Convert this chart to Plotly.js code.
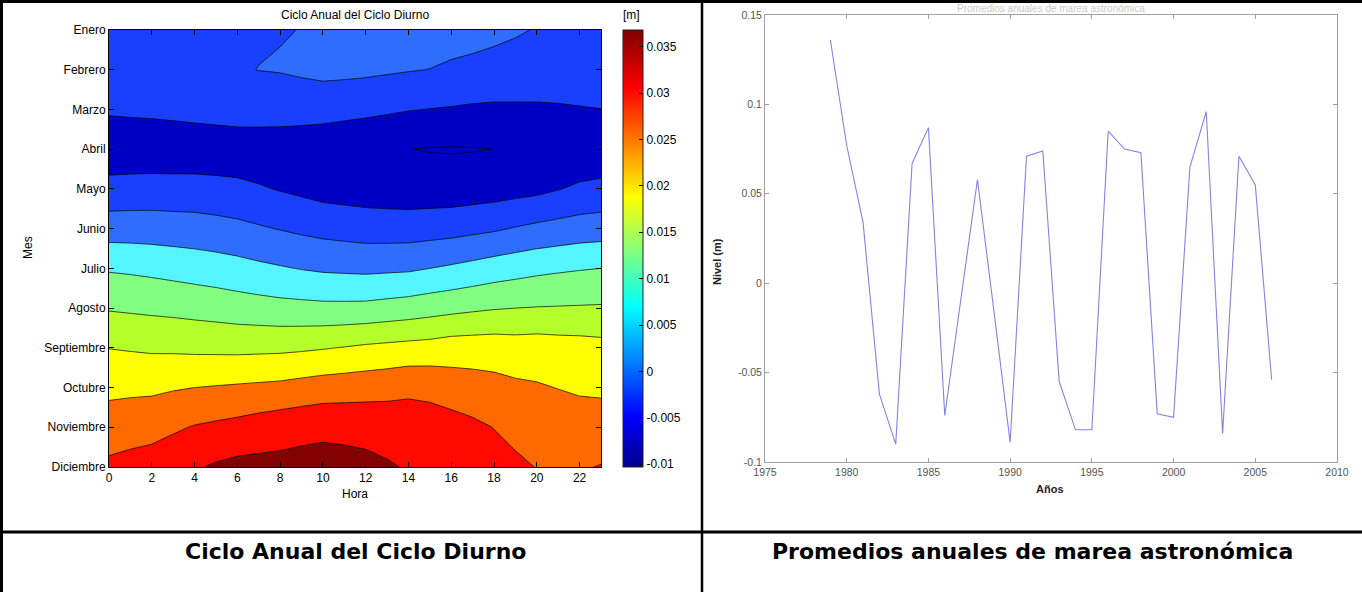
<!DOCTYPE html>
<html>
<head>
<meta charset="utf-8">
<script src="https://cdn.plot.ly/plotly-3.0.1.min.js"></script>
<style>
  html, body { margin: 0; padding: 0; background: #fff; overflow: hidden; }
  #fig { width: 1362px; height: 592px; }
</style>
</head>
<body>
<div id="fig"></div>
<script>
// ---- Ciclo anual del ciclo diurno: nivel [m] por mes (filas) y hora (columnas) ----
const horas = [0,1,2,3,4,5,6,7,8,9,10,11,12,13,14,15,16,17,18,19,20,21,22,23];
const horaTicks = [0,2,4,6,8,10,12,14,16,18,20,22];
const meses = ['Enero','Febrero','Marzo','Abril','Mayo','Junio','Julio','Agosto','Septiembre','Octubre','Noviembre','Diciembre'];
const mesIdx = [1,2,3,4,5,6,7,8,9,10,11,12];

const enero      = [-0.0025,-0.0024,-0.0022,-0.0019,-0.0015,-0.0010,-0.0006,-0.0004,-0.00014,0.00005,0.0018,0.0021,0.0022,0.0022,0.0022,0.0030,0.0035,0.0022,0.0011,0.0004,-0.0002,-0.0010,-0.0015,-0.0018];
const febrero    = [-0.0033,-0.0032,-0.0030,-0.0026,-0.0022,-0.0012,-0.0003,0.00005,0.00019,0.0006,0.0011,0.0011,0.00095,0.0006,0.00025,-0.00008,-0.0012,-0.0015,-0.00155,-0.0016,-0.00155,-0.0017,-0.0018,-0.0025];
const marzo      = [-0.0044,-0.0042,-0.0040,-0.0037,-0.0033,-0.0029,-0.0024,-0.0023,-0.0022,-0.0024,-0.0027,-0.0033,-0.0038,-0.0043,-0.0048,-0.0051,-0.0053,-0.0056,-0.0058,-0.0058,-0.0058,-0.0056,-0.0053,-0.00505];
const abril      = [-0.0082,-0.0082,-0.0083,-0.0083,-0.0083,-0.0083,-0.0083,-0.0084,-0.0086,-0.0088,-0.0090,-0.0092,-0.0094,-0.0097,-0.00995,-0.0102,-0.0103,-0.0102,-0.00998,-0.0097,-0.0094,-0.0091,-0.0088,-0.0085];
const mayo       = [-0.0033,-0.0031,-0.0029,-0.0030,-0.0030,-0.0033,-0.0037,-0.0045,-0.0053,-0.0060,-0.0068,-0.0071,-0.0074,-0.0076,-0.0078,-0.0078,-0.0078,-0.0075,-0.0072,-0.0067,-0.0062,-0.0052,-0.0042,-0.0037];
const junio      = [0.0026,0.0026,0.0025,0.0023,0.0021,0.0017,0.0012,0.0005,-0.0002,-0.0009,-0.0015,-0.0019,-0.0023,-0.0024,-0.0024,-0.0021,-0.0018,-0.0012,-0.0006,0.0003,0.0011,0.0017,0.0023,0.0026];
const julio      = [0.0095,0.0092,0.0088,0.0083,0.0078,0.0073,0.0067,0.0060,0.0054,0.0048,0.0043,0.0041,0.0039,0.0041,0.0043,0.0050,0.0057,0.0065,0.0074,0.0081,0.0088,0.0093,0.0097,0.0100];
const agosto     = [0.0146,0.0143,0.0140,0.0137,0.0133,0.0129,0.0124,0.0120,0.0116,0.0114,0.0112,0.0112,0.0113,0.0118,0.0123,0.0130,0.0136,0.0142,0.0147,0.0150,0.0152,0.0153,0.0154,0.0155];
const septiembre = [0.0199,0.0196,0.0193,0.0192,0.0190,0.0189,0.0188,0.0189,0.0190,0.0193,0.0197,0.0202,0.0208,0.0212,0.0216,0.0219,0.0226,0.0227,0.0228,0.0224,0.0226,0.0222,0.0220,0.0216];
const octubre    = [0.0238,0.0240,0.0241,0.0246,0.0250,0.0253,0.0256,0.0259,0.0262,0.0268,0.0274,0.0277,0.0280,0.0284,0.0290,0.0287,0.0275,0.0270,0.0264,0.0258,0.0254,0.0249,0.0244,0.0242];
const noviembre  = [0.0275,0.0279,0.0283,0.0293,0.0303,0.0309,0.0315,0.0323,0.0330,0.0335,0.0339,0.0337,0.0335,0.0330,0.0325,0.0322,0.0320,0.0310,0.0299,0.0290,0.0277,0.0274,0.0272,0.0272];
const diciembre  = [0.0310,0.0317,0.0323,0.0334,0.0345,0.0356,0.0363,0.0364,0.0364,0.0367,0.0368,0.0366,0.0362,0.0355,0.0346,0.0341,0.0336,0.0326,0.0316,0.0307,0.0299,0.0296,0.0296,0.0302];

const colorbarTicks  = [-0.01,-0.005,0,0.005,0.01,0.015,0.02,0.025,0.03,0.035];
const colorbarLabels = ['-0.01','-0.005','0','0.005','0.01','0.015','0.02','0.025','0.03','0.035'];

// ---- Promedios anuales de marea astronómica ----
const anios = [1979,1980,1981,1982,1983,1984,1985,1986,1987,1988,1989,1990,1991,1992,1993,1994,1995,1996,1997,1998,1999,2000,2001,2002,2003,2004,2005,2006];
const nivel = [0.136,0.077,0.034,-0.062,-0.090,0.067,0.087,-0.074,-0.008,0.058,-0.015,-0.089,0.071,0.074,-0.055,-0.082,-0.082,0.085,0.075,0.073,-0.073,-0.075,0.065,0.096,-0.084,0.071,0.055,-0.054];
const anioTicks = [1975,1980,1985,1990,1995,2000,2005,2010];
const nivelTicks = [-0.1,-0.05,0,0.05,0.1,0.15];
const nivelLabels = ['-0.1','-0.05','0','0.05','0.1','0.15'];

// ---- page geometry (pixels -> paper fractions) ----
const W = 1362, H = 592;
const px = x => x / W;
const py = y => 1 - y / H;

const z = [enero, febrero, marzo, abril, mayo, junio, julio, agosto, septiembre, octubre, noviembre, diciembre];

// one flat colour per filled band (below -0.01, then each 0.005 step up to >0.035)
const bandColors = ['#0000c4','#0000c4','#1a40ff','#2f6dff','#55f5ff','#80ff80','#b4ff2a','#ffff00','#ff6a00','#ff0800','#820000'];
const bandScale = bandColors.map((c, i) => [i / (bandColors.length - 1), c]);

const jet = [
  [0, '#00008f'], [0.117, '#0000ff'], [0.367, '#00ffff'],
  [0.617, '#ffff00'], [0.867, '#ff0000'], [1, '#800000']
];

const sans = 'Liberation Sans, Arial, Helvetica, sans-serif';

const traces = [
  {
    type: 'contour',
    x: horas, y: mesIdx, z: z,
    xaxis: 'x', yaxis: 'y',
    autocontour: false,
    contours: { start: -0.01, end: 0.035, size: 0.005, coloring: 'fill', showlines: true },
    colorscale: bandScale,
    showscale: false,
    line: { color: '#000', width: 0.7, smoothing: 0 },
    hoverinfo: 'skip'
  },
  {
    // carries the continuous colour bar beside the contour panel
    type: 'scatter', mode: 'markers',
    x: [-50], y: [6], xaxis: 'x', yaxis: 'y',
    marker: {
      color: [0], colorscale: jet, cmin: -0.0103, cmax: 0.0368, size: 1,
      showscale: true,
      colorbar: {
        x: px(623), xanchor: 'left', y: py(30), yanchor: 'top',
        len: 437, lenmode: 'pixels', thickness: 20, thicknessmode: 'pixels',
        xpad: 0, ypad: 0,
        outlinewidth: 1, outlinecolor: '#222',
        tickvals: colorbarTicks, ticktext: colorbarLabels,
        ticks: 'inside', ticklen: 4, tickcolor: '#000', tickwidth: 1,
        tickfont: { family: sans, size: 12, color: '#000' }
      }
    },
    hoverinfo: 'skip', showlegend: false
  },
  {
    type: 'scatter', mode: 'lines',
    x: anios, y: nivel, xaxis: 'x2', yaxis: 'y2',
    line: { color: '#8383e8', width: 1.1 },
    hoverinfo: 'skip', showlegend: false
  }
];

const axLeft = {
  showgrid: false, zeroline: false, showline: true, linecolor: '#000', linewidth: 1,
  mirror: 'ticks', ticks: 'inside', ticklen: 5, tickcolor: '#000', tickwidth: 1,
  tickfont: { family: sans, size: 12, color: '#000' }
};
const axRight = {
  showgrid: false, zeroline: false, showline: true, linecolor: '#a0a0a0', linewidth: 1,
  mirror: 'ticks', ticks: 'inside', ticklen: 4, tickcolor: '#a0a0a0', tickwidth: 1,
  tickfont: { family: sans, size: 10.5, color: '#555' }
};

const ann = (text, x, y, font, extra) => Object.assign({
  text: text, x: px(x), y: py(y), xref: 'paper', yref: 'paper',
  showarrow: false, xanchor: 'center', yanchor: 'middle', font: font
}, extra || {});

const fLeft = { family: sans, size: 12, color: '#000' };
const fRightBold = { family: sans, size: 11, color: '#222' };
const fCaption = { family: 'DejaVu Sans, Verdana, sans-serif', size: 22, color: '#000' };

const layout = {
  width: W, height: H,
  margin: { l: 0, r: 0, t: 0, b: 0, pad: 0 },
  paper_bgcolor: '#fff', plot_bgcolor: '#fff',
  showlegend: false,
  font: { family: sans },
  xaxis: Object.assign({}, axLeft, {
    domain: [px(109), px(601)], range: [0, 23], tickvals: horaTicks, anchor: 'y'
  }),
  yaxis: Object.assign({}, axLeft, {
    domain: [py(467), py(30)], range: [12, 1], tickvals: mesIdx, ticktext: meses, anchor: 'x'
  }),
  xaxis2: Object.assign({}, axRight, {
    domain: [px(765), px(1337)], range: [1975, 2010], tickvals: anioTicks, anchor: 'y2'
  }),
  yaxis2: Object.assign({}, axRight, {
    domain: [py(462), py(15)], range: [-0.1, 0.15], tickvals: nivelTicks, ticktext: nivelLabels, anchor: 'x2'
  }),
  annotations: [
    ann('Ciclo Anual del Ciclo Diurno', 355, 15, fLeft),
    ann('[m]', 631, 15, fLeft),
    ann('Hora', 355, 494, fLeft),
    ann('Mes', 28, 248, fLeft, { textangle: -90 }),
    ann('Promedios anuales de marea astronómica', 1051, 8.5, { family: sans, size: 10, color: '#c8c8c8' }),
    ann('<b>Años</b>', 1050, 489, fRightBold),
    ann('<b>Nivel (m)</b>', 717, 262, fRightBold, { textangle: -90 }),
    ann('<b>Ciclo Anual del Ciclo Diurno</b>', 355, 551, fCaption),
    ann('<b>Promedios anuales de marea astronómica</b>', 1032, 551, fCaption)
  ],
  shapes: [
    { type: 'line', xref: 'paper', yref: 'paper', x0: 0, x1: 1, y0: py(1.5), y1: py(1.5), line: { color: '#000', width: 3 }, layer: 'above' },
    { type: 'line', xref: 'paper', yref: 'paper', x0: px(1.5), x1: px(1.5), y0: 0, y1: 1, line: { color: '#000', width: 3 }, layer: 'above' },
    { type: 'line', xref: 'paper', yref: 'paper', x0: px(702), x1: px(702), y0: 0, y1: 1, line: { color: '#000', width: 2.5 }, layer: 'above' },
    { type: 'line', xref: 'paper', yref: 'paper', x0: 0, x1: 1, y0: py(532), y1: py(532), line: { color: '#000', width: 3 }, layer: 'above' }
  ]
};

Plotly.newPlot('fig', traces, layout, { staticPlot: true, displayModeBar: false });
</script>
</body>
</html>
